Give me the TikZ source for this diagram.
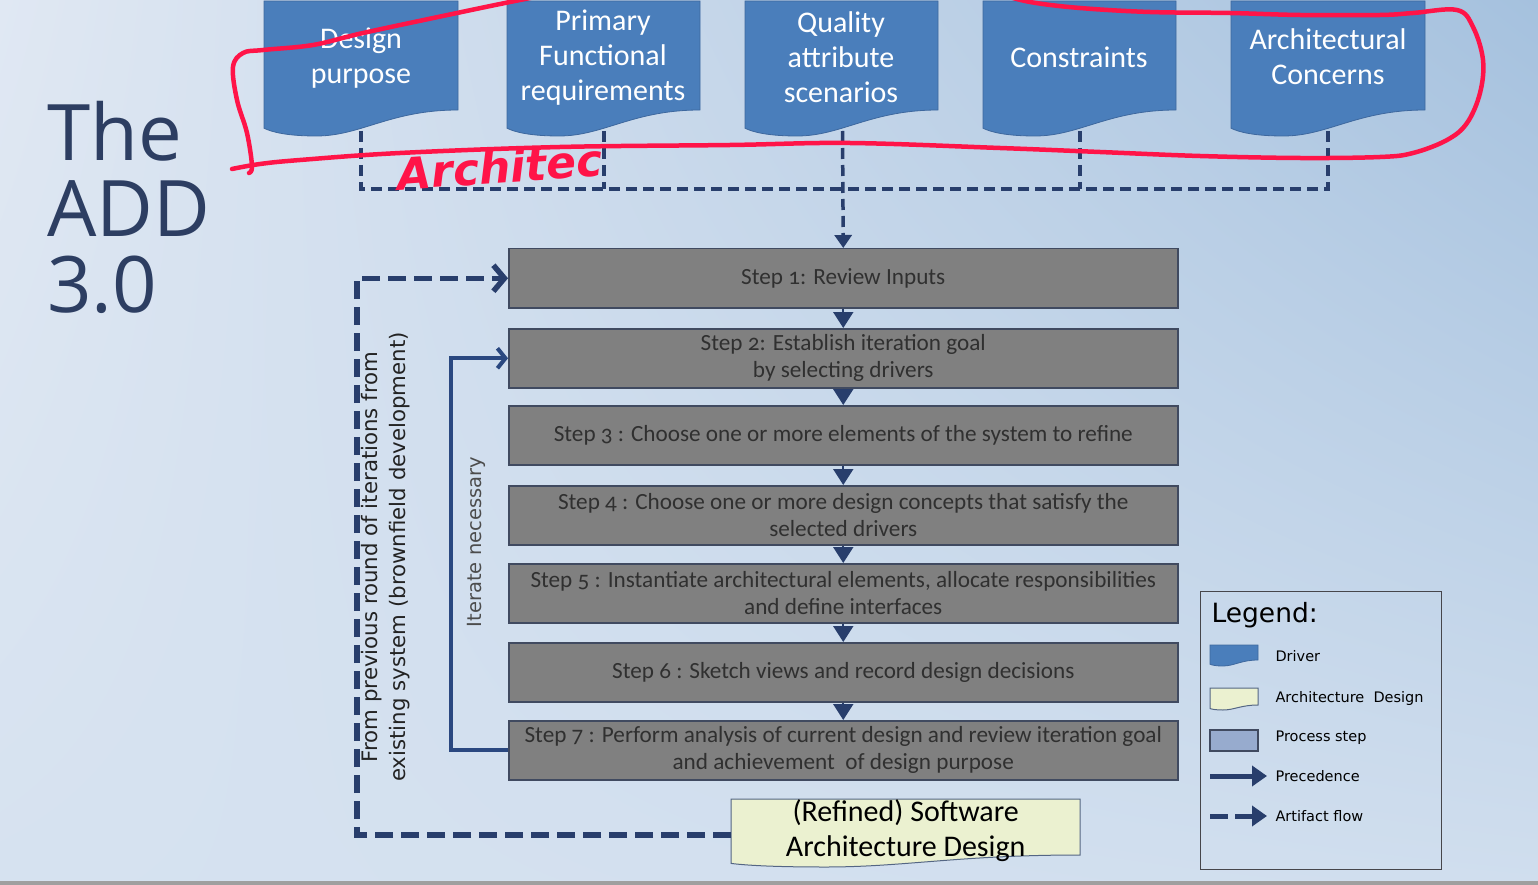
\documentclass[tikz,border=0pt]{standalone}
\usepackage{fontspec}
\setmainfont{Carlito}
\newfontfamily\stepfont[Numbers=OldStyle]{Carlito}
\newfontfamily\verdfont{DejaVu Sans}
\newfontfamily\titlefont{Open Sans}
\usetikzlibrary{arrows.meta,shadings}

\definecolor{driverblue}{RGB}{74,126,187}
\definecolor{driverline}{RGB}{62,104,158}
\definecolor{stepgrey}{RGB}{128,128,128}
\definecolor{stepline}{RGB}{64,74,96}
\definecolor{steptext}{RGB}{48,48,48}
\definecolor{flownavy}{RGB}{40,62,108}
\definecolor{loopblue}{RGB}{42,72,128}
\definecolor{archfill}{RGB}{235,241,208}
\definecolor{archline}{RGB}{84,102,132}
\definecolor{procfill}{RGB}{151,171,206}
\definecolor{legendline}{RGB}{70,70,75}
\definecolor{titlenavy}{RGB}{45,62,98}
\definecolor{labelgrey}{RGB}{35,35,35}
\definecolor{annored}{RGB}{255,20,72}
\definecolor{bgul}{RGB}{224,232,243}
\definecolor{bgur}{RGB}{165,193,222}
\definecolor{bgll}{RGB}{214,226,240}
\definecolor{bglr}{RGB}{208,222,238}

% document shape: style, left, top, right, bottom (right side), dip of the wave
\newcommand{\docshape}[6]{%
  \pgfmathsetmacro{\docw}{#4-#2}
  \filldraw[#1] (#2,#3) -- (#4,#3) -- (#4,#5)
    .. controls ({#4-0.35*\docw},#5) and ({#2+0.5*\docw},{#5+#6}) .. ({#2+0.27*\docw},{#5+#6})
    .. controls ({#2+0.12*\docw},{#5+#6}) and ({#2+0.04*\docw},{#5+0.85*#6}) .. (#2,{#5+0.7*#6}) -- cycle;}

\begin{document}
\begin{tikzpicture}[x=1pt,y=-1pt,
    driver/.style={fill=driverblue, draw=driverline, line width=0.8pt},
    archdoc/.style={fill=archfill, draw=archline, line width=1pt},
    drivertext/.style={text=white, align=center, font=\fontsize{30}{35}\selectfont},
    stepbox/.style={draw=stepline, line width=1.5pt, fill=stepgrey, anchor=north west,
      minimum width=669pt, minimum height=59pt, inner sep=0pt, text=steptext,
      align=center, font=\stepfont\fontsize{23.2}{27}\selectfont},
    precedence/.style={draw=flownavy, line width=2pt, -{Triangle[width=20pt,length=16pt]}},
    artifactflow/.style={draw=flownavy, line width=3.5pt, dash pattern=on 11pt off 6pt},
    iterloop/.style={draw=loopblue, line width=4pt, -{Straight Barb[length=8pt,width=20pt]}},
    outerloop/.style={draw=flownavy, line width=5.5pt, dash pattern=on 18pt off 8pt,
      -{Straight Barb[length=11pt,width=26pt]}},
    sidelabel/.style={rotate=90, align=center, text=labelgrey, font=\verdfont\fontsize{21.3}{28}\selectfont},
    legendtext/.style={anchor=west, font=\verdfont\fontsize{14.5}{17}\selectfont},
    scribble/.style={draw=annored, line width=4.5pt, line cap=round, line join=round}
  ]
  \useasboundingbox (0,0) rectangle (1538,885);
  \shade[upper left=bgul, upper right=bgur, lower left=bgll, lower right=bglr] (0,0) rectangle (1538,885);
  \fill[gray!75] (0,881) rectangle (1538,885);

  % title
  \node[anchor=north west, align=left, inner sep=0pt, text=titlenavy,
    font=\titlefont\fontsize{78}{76}\selectfont] (title) at (47,101) {The\\ADD\\3.0};

  % drivers
  \docshape{driver}{264}{1}{458}{110}{26}
  \docshape{driver}{507}{1}{700}{110}{26}
  \docshape{driver}{745}{1}{938}{110}{26}
  \docshape{driver}{983}{1}{1176}{110}{26}
  \docshape{driver}{1231}{1}{1425}{110}{26}

  \node[drivertext] (dp) at (361,58) {Design\\purpose};
  \node[drivertext] (pf) at (603,58) {Primary\\Functional\\requirements};
  \node[drivertext] (qa) at (841,57) {Quality\\attribute\\scenarios};
  \node[drivertext] (cn) at (1079,57) {Constraints};
  \node[drivertext] (ac) at (1328,57) {Architectural\\Concerns};

  \coordinate (dpb) at (361,131);
  \coordinate (pfb) at (604,131);
  \coordinate (qab) at (842.5,131);
  \coordinate (cnb) at (1080,131);
  \coordinate (acb) at (1328,131);
  \coordinate (jn) at (842.5,189);

  % steps
  \node[stepbox] (s1) at (508,248) {Step 1: Review Inputs};
  \node[stepbox] (s2) at (508,328) {Step 2: Establish iteration goal\\by selecting drivers};
  \node[stepbox] (s3) at (508,405) {Step 3 : Choose one or more elements of the system to refine};
  \node[stepbox] (s4) at (508,485) {Step 4 : Choose one or more design concepts that satisfy the\\selected drivers};
  \node[stepbox] (s5) at (508,563) {Step 5 : Instantiate architectural elements, allocate responsibilities\\and define interfaces};
  \node[stepbox] (s6) at (508,642) {Step 6 : Sketch views and record design decisions};
  \node[stepbox] (s7) at (508,720) {Step 7 : Perform analysis of current design and review iteration goal\\and achievement \ of design purpose};

  % inputs
  \draw[artifactflow] (dpb) |- (jn);
  \draw[artifactflow] (acb) |- (jn);
  \draw[artifactflow] (pfb) -- (pfb |- jn);
  \draw[artifactflow] (cnb) -- (cnb |- jn);
  \draw[artifactflow, -{Triangle[width=17pt,length=13pt]}] (qab) -- (s1.north);

  \draw[precedence] (s1.south) -- (s2.north);
  \draw[precedence] (s2.south) -- (s3.north);
  \draw[precedence] (s3.south) -- (s4.north);
  \draw[precedence] (s4.south) -- (s5.north);
  \draw[precedence] (s5.south) -- (s6.north);
  \draw[precedence] (s6.south) -- (s7.north);

  % output and loops
  \docshape{archdoc}{731}{799}{1080}{855}{12}
  \node[anchor=north west, align=center, minimum width=349pt, minimum height=58pt, inner sep=0pt,
    font=\fontsize{30}{35}\selectfont] (sw) at (731,799) {(Refined) Software\\Architecture Design};
  \coordinate (swin) at (731,835);

  \draw[iterloop] (s7.west) -- ++(-57,0) |- (s2.west);
  \draw[outerloop] (swin) -- ++(-374,0) |- (s1.west);

  \node[sidelabel] (prevlbl) at (386,557) {From previous round of iterations from\\existing system (brownfield development)};
  \node[sidelabel, text=black!70, font=\verdfont\fontsize{19.5}{24}\selectfont] (iterlbl) at (476,542) {Iterate necessary};

  % legend
  \node[draw=legendline, line width=1.2pt, anchor=north west, minimum width=241pt,
    minimum height=278pt] (legend) at (1200,591) {};
  \node[anchor=west, font=\verdfont\fontsize{26.5}{30}\selectfont] (legtitle) at (1208,615) {Legend:};
  \docshape{driver}{1210}{645}{1258}{660}{6}
  \node[legendtext] (ldriver) at (1272,656) {Driver};
  \docshape{archdoc}{1210}{688}{1258}{705}{5}
  \node[legendtext] (ldesign) at (1272,698) {Architecture \ Design};
  \filldraw[fill=procfill, draw=stepline, line width=1.2pt] (1210,730) rectangle (1258,751);
  \node[legendtext] (lstep) at (1272,738) {Process step};
  \node[legendtext] (lprec) at (1272,776) {Precedence};
  \node[legendtext] (lflow) at (1272,816) {Artifact flow};
  \coordinate (lpa) at (1210,776);
  \coordinate (lfa) at (1210,816);
  \draw[flownavy, line width=5pt, shorten >=5pt, -{Triangle[width=20pt,length=15pt]}] (lpa) -- (lprec.west);
  \draw[flownavy, line width=5pt, dash pattern=on 18pt off 7pt, shorten >=5pt,
    -{Triangle[width=20pt,length=15pt]}] (lfa) -- (lflow.west);

  % red pen marks
  \draw[scribble] plot[smooth, tension=0.6] coordinates {(249,173) (252,166) (247,133) (237,100) (233,67)
    (243,53) (263,50) (313,45) (363,33) (457,13) (505,3) (550,-6)};
  \draw[scribble] plot[smooth, tension=0.6] coordinates {(232,169) (260,164) (300,160) (400,153) (560,147)
    (730,145) (850,143) (1000,148) (1100,152) (1200,156) (1300,158) (1380,157) (1413,153) (1447,140)
    (1467,123) (1480,93) (1483,60) (1473,27) (1457,10) (1413,13) (1380,15) (1300,15) (1230,13)
    (1150,12) (1080,8) (1030,2) (1000,-6)};
  \node[anchor=west, rotate=4, text=annored, font=\verdfont\bfseries\itshape\fontsize{44}{44}\selectfont] (scrawl)
    at (394,174) {Architec};
\end{tikzpicture}
\end{document}
